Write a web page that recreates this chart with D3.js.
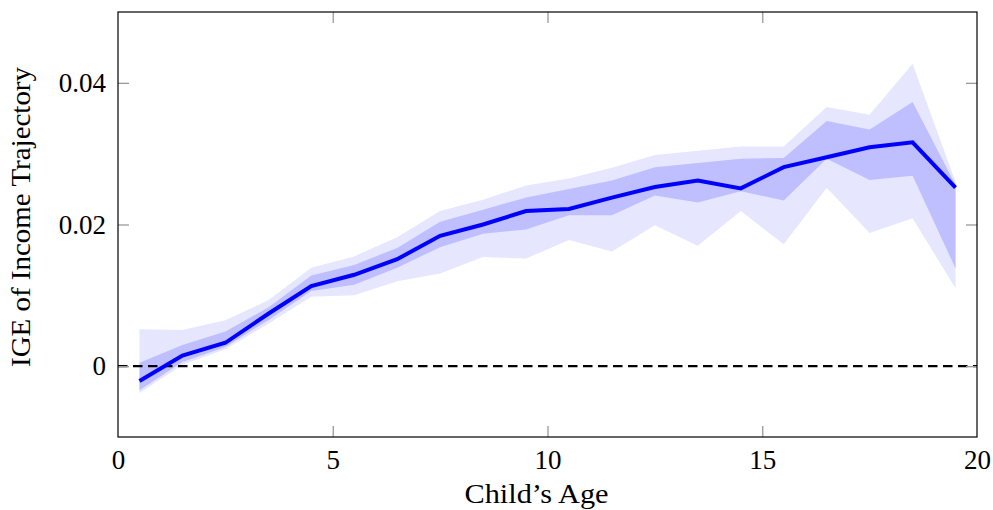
<!DOCTYPE html>
<html>
<head>
<meta charset="utf-8">
<script src="https://cdn.jsdelivr.net/npm/d3@7"></script>
<style>
    body { margin: 0; background: #fff; }
    text { font-family: "Liberation Serif", "DejaVu Serif", serif; fill: #000; }
    .tick-mark { stroke: #9a9a9a; stroke-width: 1.3; }
</style>
</head>
<body>
<svg id="chart" width="993" height="510"></svg>
<script>
// child's age (bin midpoints)
const ages = [0.5, 1.5, 2.5, 3.5, 4.5, 5.5, 6.5, 7.5, 8.5, 9.5, 10.5, 11.5, 12.5, 13.5, 14.5, 15.5, 16.5, 17.5, 18.5, 19.5];
// point estimate
const ige = [-0.0021, 0.0015, 0.0033, 0.0074, 0.0113, 0.0129, 0.0151, 0.0184, 0.0200, 0.0219, 0.0222, 0.0238, 0.0253, 0.0262, 0.0251, 0.0281, 0.0295, 0.0309, 0.0316, 0.0252];
// inner band
const innerHi = [0.0005, 0.0030, 0.0049, 0.0083, 0.0128, 0.0143, 0.0167, 0.0204, 0.0221, 0.0238, 0.0250, 0.0262, 0.0281, 0.0287, 0.0293, 0.0294, 0.0346, 0.0334, 0.0373, 0.0256];
const innerLo = [-0.0034, 0.0006, 0.0027, 0.0065, 0.0106, 0.0115, 0.0139, 0.0168, 0.0187, 0.0193, 0.0213, 0.0213, 0.0241, 0.0231, 0.0247, 0.0234, 0.0293, 0.0263, 0.0269, 0.0138];
// outer band
const outerHi = [0.0052, 0.0051, 0.0065, 0.0093, 0.0139, 0.0155, 0.0182, 0.0219, 0.0235, 0.0255, 0.0265, 0.0280, 0.0298, 0.0304, 0.0310, 0.0310, 0.0366, 0.0355, 0.0427, 0.0260];
const outerLo = [-0.0038, 0.0002, 0.0024, 0.0060, 0.0098, 0.0100, 0.0120, 0.0131, 0.0154, 0.0152, 0.0178, 0.0162, 0.0199, 0.0170, 0.0219, 0.0172, 0.0252, 0.0188, 0.0209, 0.0110];

const xTicks = [0, 5, 10, 15, 20];
const yTicks = [0, 0.02, 0.04];
const yTickLabels = ["0", "0.02", "0.04"];

const margin = {top: 12, right: 16, bottom: 73, left: 118};
const width = 993 - margin.left - margin.right;
const height = 510 - margin.top - margin.bottom;
const tickLen = 11;

let svg = d3.select("#chart");
let chart = svg.append("g").attr("transform", "translate(" + margin.left + "," + margin.top + ")");

let xScale = d3.scaleLinear().domain([0, 20]).range([0, width]);
let yScale = d3.scaleLinear().domain([-0.01, 0.05]).range([height, 0]);

let rows = ages.map((a, i) => ({age: a, ige: ige[i], iHi: innerHi[i], iLo: innerLo[i], oHi: outerHi[i], oLo: outerLo[i]}));

chart.append("defs").append("clipPath").attr("id", "clip")
    .append("rect").attr("width", width).attr("height", height);

let plot = chart.append("g").attr("clip-path", "url(#clip)");

// bands
plot.append("path").datum(rows)
    .attr("fill", "#e6e6ff")
    .attr("d", d3.area().x(d => xScale(d.age)).y0(d => yScale(d.oLo)).y1(d => yScale(d.oHi)));
plot.append("path").datum(rows)
    .attr("fill", "#bfbfff")
    .attr("d", d3.area().x(d => xScale(d.age)).y0(d => yScale(d.iLo)).y1(d => yScale(d.iHi)));

// zero line
plot.append("line")
    .attr("x1", xScale(0)).attr("x2", xScale(20))
    .attr("y1", yScale(0)).attr("y2", yScale(0))
    .attr("stroke", "#000").attr("stroke-width", 2.2).attr("stroke-dasharray", "9.5 5.5");

// estimate
plot.append("path").datum(rows)
    .attr("fill", "none").attr("stroke", "#0000ff").attr("stroke-width", 4)
    .attr("d", d3.line().x(d => xScale(d.age)).y(d => yScale(d.ige)));

// axes: ticks pointing inward on all four sides
let xb = chart.append("g").attr("transform", "translate(0," + height + ")")
    .call(d3.axisBottom(xScale).tickValues(xTicks).tickSizeInner(-tickLen).tickSizeOuter(0).tickPadding(13));
let xt = chart.append("g")
    .call(d3.axisTop(xScale).tickValues(xTicks).tickSizeInner(-tickLen).tickSizeOuter(0).tickFormat(""));
let yl = chart.append("g")
    .call(d3.axisLeft(yScale).tickValues(yTicks).tickSizeInner(-tickLen).tickSizeOuter(0).tickPadding(12)
        .tickFormat((d, i) => yTickLabels[i]));
let yr = chart.append("g").attr("transform", "translate(" + width + ",0)")
    .call(d3.axisRight(yScale).tickValues(yTicks).tickSizeInner(-tickLen).tickSizeOuter(0).tickFormat(""));

[xb, xt, yl, yr].forEach(g => {
    g.select(".domain").remove();
    g.selectAll(".tick line").attr("class", "tick-mark").attr("stroke", null);
    g.selectAll(".tick text").style("font-size", "27px").attr("fill", "#000");
});
// end ticks at 0 and 20 sit on the frame
xb.selectAll(".tick line").filter(d => d === 0 || d === 20).remove();
xt.selectAll(".tick line").filter(d => d === 0 || d === 20).remove();

// frame
chart.append("rect").attr("width", width).attr("height", height)
    .attr("fill", "none").attr("stroke", "#000").attr("stroke-width", 1.2);

// titles (Computer Modern is wider than Times, so stretch to the same width)
chart.append("text")
    .attr("x", width / 2 - 11).attr("y", height + 66)
    .attr("text-anchor", "middle").style("font-size", "28px")
    .attr("textLength", 144).attr("lengthAdjust", "spacingAndGlyphs")
    .text("Child’s Age");
svg.append("text")
    .attr("transform", "translate(30," + 217 + ") rotate(-90)")
    .attr("text-anchor", "middle").style("font-size", "28px")
    .attr("textLength", 300).attr("lengthAdjust", "spacingAndGlyphs")
    .text("IGE of Income Trajectory");
</script>
</body>
</html>
